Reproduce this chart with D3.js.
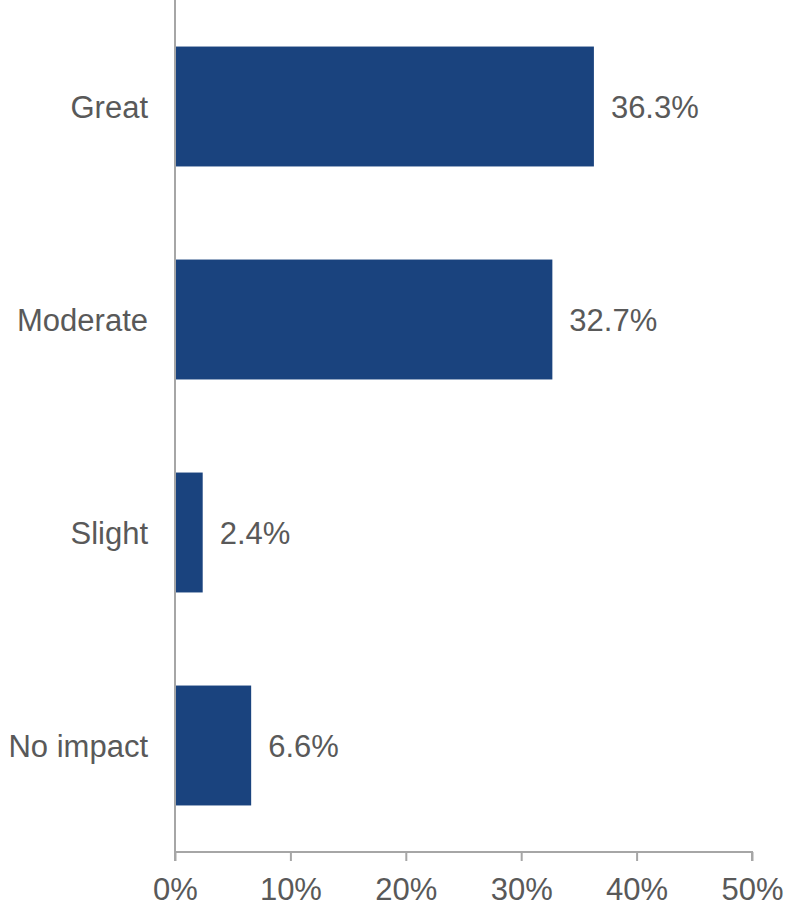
<!DOCTYPE html>
<html>
<head>
<meta charset="utf-8">
<script src="https://cdn.jsdelivr.net/npm/d3@7"></script>
<style>
  body { margin: 0; background: #fff; }
  text { font-family: "Liberation Sans", Arial, sans-serif; fill: #595959; }
</style>
</head>
<body>
<div id="chart"></div>
<script>
var categories = ["Great", "Moderate", "Slight", "No impact"];
var values = [36.3, 32.7, 2.4, 6.6];
var tickValues = [0, 10, 20, 30, 40, 50];

var width = 786, height = 909;
var margin = {top: 0, right: 34, bottom: 57, left: 175};
var c_width = width - margin.left - margin.right;
var c_height = height - margin.top - margin.bottom;

var svg = d3.select("#chart").append("svg")
    .attr("width", width)
    .attr("height", height);
var g = svg.append("g").attr("transform", "translate(" + margin.left + "," + margin.top + ")");

var x = d3.scaleLinear().domain([0, 50]).range([0, 577]);
var y = d3.scaleBand().domain(categories).range([0, c_height])
    .paddingInner(0.437).paddingOuter(0.2185);

// bars
g.selectAll(".bar")
    .data(values)
    .enter().append("rect")
    .attr("class", "bar")
    .attr("x", 1)
    .attr("y", function(d, i) { return y(categories[i]); })
    .attr("height", y.bandwidth())
    .attr("width", function(d) { return x(d) - 1; })
    .attr("fill", "#1a437e");

// value labels
g.selectAll(".val")
    .data(values)
    .enter().append("text")
    .attr("class", "val")
    .attr("x", function(d) { return x(d) + 17; })
    .attr("y", function(d, i) { return y(categories[i]) + y.bandwidth() / 2; })
    .attr("dy", "0.36em")
    .style("font-size", "31px")
    .text(function(d) { return d.toFixed(1) + "%"; });

// category labels
g.selectAll(".cat")
    .data(categories)
    .enter().append("text")
    .attr("class", "cat")
    .attr("x", -27)
    .attr("y", function(d) { return y(d) + y.bandwidth() / 2; })
    .attr("dy", "0.36em")
    .attr("text-anchor", "end")
    .style("font-size", "31px")
    .text(function(d) { return d; });

// x axis
var xaxis = g.append("g")
    .attr("transform", "translate(0," + c_height + ")")
    .call(d3.axisBottom(x).tickValues(tickValues).tickSize(9).tickPadding(17)
        .tickFormat(function(d) { return d + "%"; }));
xaxis.select(".domain").attr("stroke", "#a6a6a6").attr("stroke-width", 2)
    .attr("d", "M0,0H" + x(50) + "V9");
xaxis.selectAll(".tick line").attr("stroke", "#a6a6a6").attr("stroke-width", 2);
xaxis.selectAll(".tick text").style("font-size", "31px").attr("fill", "#595959")
    .style("font-family", "'Liberation Sans', Arial, sans-serif");

// y axis line
g.append("line")
    .attr("x1", 0).attr("x2", 0)
    .attr("y1", 0).attr("y2", c_height + 9)
    .attr("stroke", "#a6a6a6").attr("stroke-width", 2);
</script>
</body>
</html>
